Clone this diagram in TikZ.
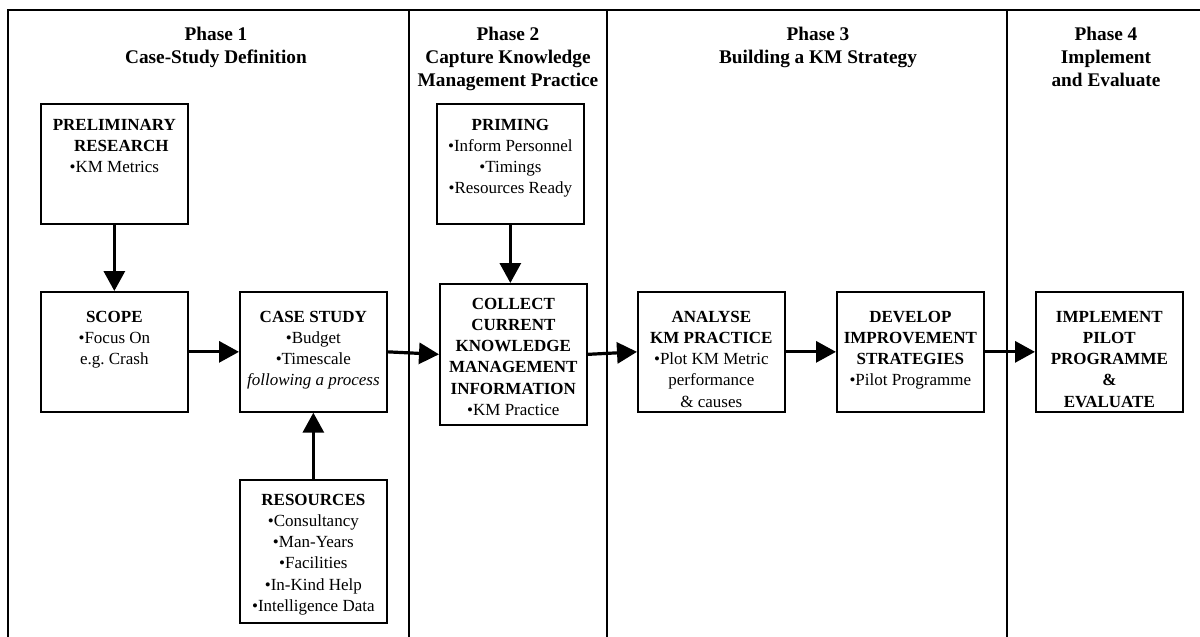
\documentclass[tikz,border=0pt]{standalone}
\usepackage{fontspec}
\setmainfont{Liberation Serif}
\usetikzlibrary{arrows.meta,calc}

% struts that fix the height of the first text line
\newcommand\firstln{\rule{0pt}{13pt}}
\newcommand\headln{\rule{0pt}{15pt}}

\begin{document}
\begin{tikzpicture}[x=1pt,y=-1pt,
  frame/.style={line width=2pt},
  box/.style={draw,line width=1.7pt,rectangle,inner sep=0pt,anchor=north west},
  lbl/.style={font=\fontsize{17}{21.2}\selectfont,align=center,inner sep=0pt,anchor=north},
  head/.style={font=\fontsize{19.3}{23}\selectfont\bfseries,align=center,inner sep=0pt,anchor=north},
  flow/.style={line width=3.2pt,-{Triangle[length=20pt,width=21pt]}}
]
\useasboundingbox (0,0) rectangle (1200,637);

% phase frame and column dividers
\draw[frame] (1200,10) -- (8,10) -- (8,637);
\draw[frame] (409,10) -- (409,637);
\draw[frame] (607,10) -- (607,637);
\draw[frame] (1007,10) -- (1007,637);

% phase headings
\node[head] (h1) at (216,25) {\headln Phase 1\\Case-Study Definition};
\node[head] (h2) at (508,25) {\headln Phase 2\\Capture Knowledge\\Management Practice};
\node[head] (h3) at (818,25) {\headln Phase 3\\Building a KM Strategy};
\node[head] (h4) at (1106,25) {\headln Phase 4\\Implement\\and Evaluate};

% boxes
\node[box,minimum width=147pt,minimum height=120pt] (prelim)  at (40,103)   {};
\node[box,minimum width=147pt,minimum height=120pt] (scope)   at (40,291)   {};
\node[box,minimum width=147pt,minimum height=120pt] (case)    at (239,291)  {};
\node[box,minimum width=147pt,minimum height=143pt] (res)     at (239,479)  {};
\node[box,minimum width=147pt,minimum height=120pt] (priming) at (436,103)  {};
\node[box,minimum width=147pt,minimum height=141pt] (collect) at (439,283)  {};
\node[box,minimum width=147pt,minimum height=120pt] (analyse) at (637,291)  {};
\node[box,minimum width=147pt,minimum height=120pt] (develop) at (836,291)  {};
\node[box,minimum width=147pt,minimum height=120pt] (impl)    at (1035,291) {};

% box texts
\node[lbl] (tprelim) at ($(prelim.north)+(0,14)$)
  {\firstln\textbf{PRELIMINARY}\\\hspace*{14pt}\textbf{RESEARCH}\\•KM Metrics};
\node[lbl] (tscope) at ($(scope.north)+(0,18)$)
  {\firstln\textbf{SCOPE}\\•Focus On\\e.g.\ Crash};
\node[lbl] (tcase) at ($(case.north)+(0,18)$)
  {\firstln\textbf{CASE STUDY}\\•Budget\\•Timescale\\\textit{following a process}};
\node[lbl] (tres) at ($(res.north)+(0,13)$)
  {\firstln\textbf{RESOURCES}\\•Consultancy\\•Man-Years\\•Facilities\\•In-Kind Help\\•Intelligence Data};
\node[lbl] (tpriming) at ($(priming.north)+(0,14)$)
  {\firstln\textbf{PRIMING}\\•Inform Personnel\\•Timings\\•Resources Ready};
\node[lbl] (tcollect) at ($(collect.north)+(0,13)$)
  {\firstln\textbf{COLLECT}\\\textbf{CURRENT}\\\textbf{KNOWLEDGE}\\\textbf{MANAGEMENT}\\\textbf{INFORMATION}\\•KM Practice};
\node[lbl] (tanalyse) at ($(analyse.north)+(0,18)$)
  {\firstln\textbf{ANALYSE}\\\textbf{KM PRACTICE}\\•Plot KM Metric\\performance\\\& causes};
\node[lbl] (tdevelop) at ($(develop.north)+(0,18)$)
  {\firstln\textbf{DEVELOP}\\\textbf{IMPROVEMENT}\\\textbf{STRATEGIES}\\•Pilot Programme};
\node[lbl] (timpl) at ($(impl.north)+(0,18)$)
  {\firstln\textbf{IMPLEMENT}\\\textbf{PILOT}\\\textbf{PROGRAMME}\\\textbf{\&}\\\textbf{EVALUATE}};

% flow arrows
\draw[flow] (prelim) -- (scope);
\draw[flow] (priming.south) -- (priming.south |- collect.north);
\draw[flow] (res) -- (case);
\draw[flow] (scope) -- (case);
\draw[flow] (case.east) -- (collect.west);
\draw[flow] (collect.east) -- (analyse.west);
\draw[flow] (analyse) -- (develop);
\draw[flow] (develop) -- (impl);
\end{tikzpicture}
\end{document}
